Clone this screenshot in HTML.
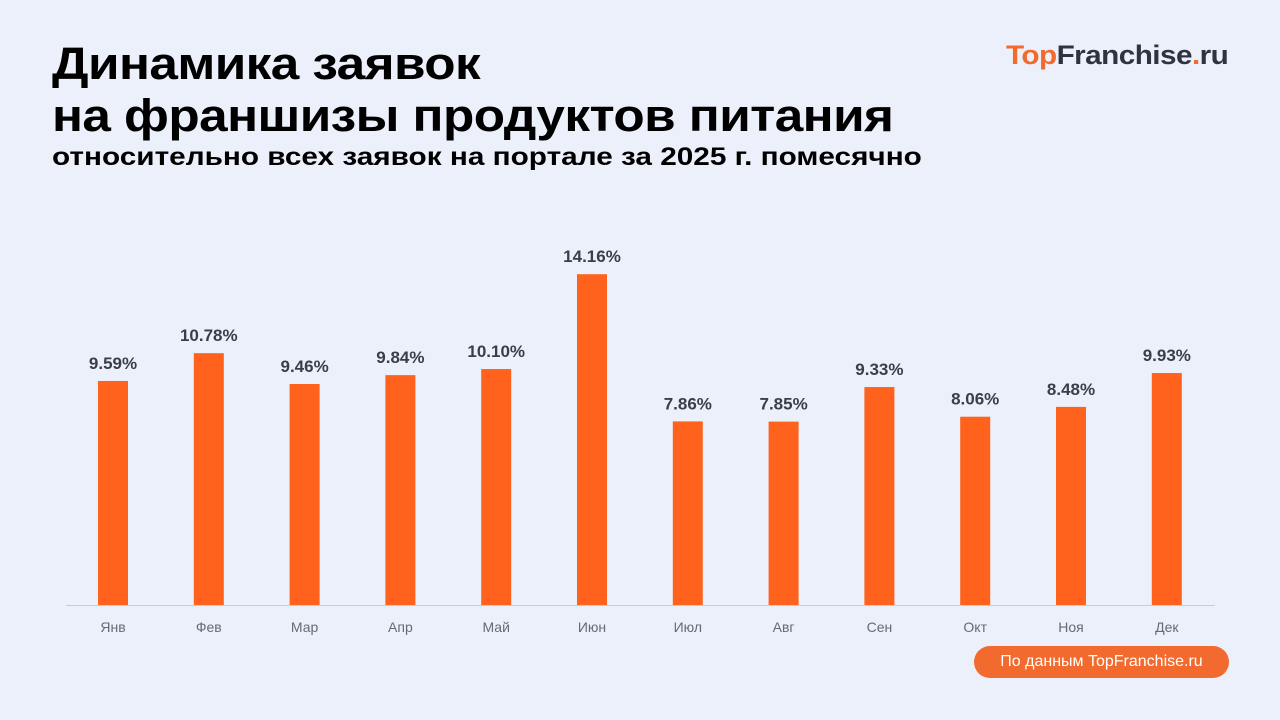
<!DOCTYPE html>
<html><head><meta charset="utf-8"><style>
body{margin:0;width:1280px;height:720px;background:#ecf0fa;font-family:"Liberation Sans","DejaVu Sans",sans-serif;position:relative;overflow:hidden}
.t{position:absolute;left:52px;color:#000;font-weight:bold;white-space:nowrap;transform-origin:left top}
</style></head><body>
<div class="t" style="top:38px;font-size:45px;line-height:52px;letter-spacing:-0.5px;transform:scaleX(1.14)">Динамика заявок<br>на франшизы продуктов питания</div>
<div class="t" style="top:143px;font-size:25px;transform:scaleX(1.19)">относительно всех заявок на портале за 2025 г. помесячно</div>
<div style="position:absolute;left:1006px;top:40px;font-size:27px;font-weight:bold;letter-spacing:-0.5px;transform:scaleX(1.1);transform-origin:left top"><span style="color:#f26a2e">Top</span><span style="color:#2d3340">Franchise</span><span style="color:#f26a2e">.</span><span style="color:#2d3340">ru</span></div>
<svg id="chart" width="1280" height="720" style="position:absolute;left:0;top:0"></svg>
<div style="position:absolute;left:974px;top:646px;width:255px;height:32px;border-radius:16px;background:#f26a2e;color:#fff;font-size:16px;line-height:32px;text-align:center">По данным TopFranchise.ru</div>
<script>
const months=["Янв","Фев","Мар","Апр","Май","Июн","Июл","Авг","Сен","Окт","Ноя","Дек"];
const values=[9.59,10.78,9.46,9.84,10.10,14.16,7.86,7.85,9.33,8.06,8.48,9.93];
const labels=["9.59%","10.78%","9.46%","9.84%","10.10%","14.16%","7.86%","7.85%","9.33%","8.06%","8.48%","9.93%"];
const svg=document.getElementById('chart');const NS='http://www.w3.org/2000/svg';
const base=605,k=23.36,x0=113,step=95.8,bw=30;
const xs=i=>x0+i*step, ys=v=>base-v*k;
function mk(t,a){const e=document.createElementNS(NS,t);for(const n in a)e.setAttribute(n,a[n]);svg.appendChild(e);return e;}
const ax=mk('line',{x1:66,x2:1215,y1:base+0.5,y2:base+0.5,stroke:'#c9ccd4','stroke-width':1});


values.forEach((v,i)=>{
 const r=mk('rect',{x:xs(i)-bw/2,y:ys(v),width:bw,height:base-ys(v),fill:'#fe621d'});
 
 
 const t=mk('text',{x:xs(i),y:ys(v)-12,'text-anchor':'middle','font-size':17,'font-weight':'bold',fill:'#3a3f47','font-family':'Liberation Sans, sans-serif'});
 t.textContent=labels[i];
 
 
 const m=mk('text',{x:xs(i),y:632,'text-anchor':'middle','font-size':14,fill:'#666a73','font-family':'Liberation Sans, sans-serif'});
 m.textContent=months[i];
 
 
});
</script>
</body></html>
